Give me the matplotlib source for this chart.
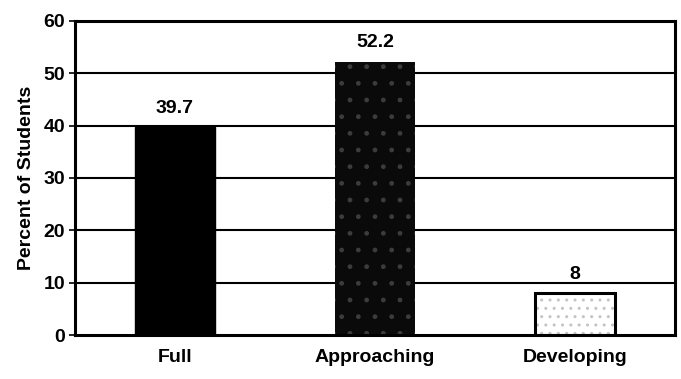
import matplotlib.pyplot as plt
import matplotlib as mpl

plt.rcParams["font.family"] = ["Liberation Sans", "DejaVu Sans"]
mpl.rcParams["hatch.linewidth"] = 1.0

categorias = ["Full", "Approaching", "Developing"]
valores = [39.7, 52.2, 8]
rotulos = ["39.7", "52.2", "8"]

fig = plt.figure(figsize=(6.81, 3.79), dpi=100)
ax = fig.add_axes([0.110, 0.116, 0.881, 0.829])

x = range(len(categorias))
for y in range(10, 60, 10):
    ax.axhline(y, color="black", lw=1.5, zorder=1)

barras = ax.bar(x, valores, width=0.4, zorder=2)
barras[0].set_facecolor("black")
barras[0].set_edgecolor("black")
barras[1].set_facecolor("#0a0a0a")
barras[1].set_edgecolor("#3c3c3c")
barras[1].set_hatch(".")
barras[1].set_linewidth(0)
barras[2].set_facecolor("white")
barras[2].set_edgecolor("#c4c4c4")
barras[2].set_hatch("..")
barras[2].set_linewidth(0)
# contorno da barra clara
ax.bar([2], [valores[2]], width=0.4, facecolor="none", edgecolor="black", lw=2.2, zorder=3)

for i, v in enumerate(valores):
    ax.text(i, v + 2.0, rotulos[i], ha="center", va="bottom", fontsize=14, fontweight="bold")

ax.set_xlim(-0.5, 2.5)
ax.set_ylim(0, 60)
ax.set_yticks(range(0, 61, 10))
ax.set_xticks(list(x))
ax.set_xticklabels(categorias, fontsize=14, fontweight="bold")
ax.tick_params(axis="y", labelsize=14, length=4, width=1.2, pad=3)
ax.tick_params(axis="x", length=0, pad=10)
for t in ax.get_yticklabels():
    t.set_fontweight("bold")
ax.set_ylabel("Percent of Students", fontsize=14, fontweight="bold", labelpad=6)
for s in ax.spines.values():
    s.set_linewidth(2.2)
    s.set_color("black")

fig.savefig("out.png", dpi=100)
